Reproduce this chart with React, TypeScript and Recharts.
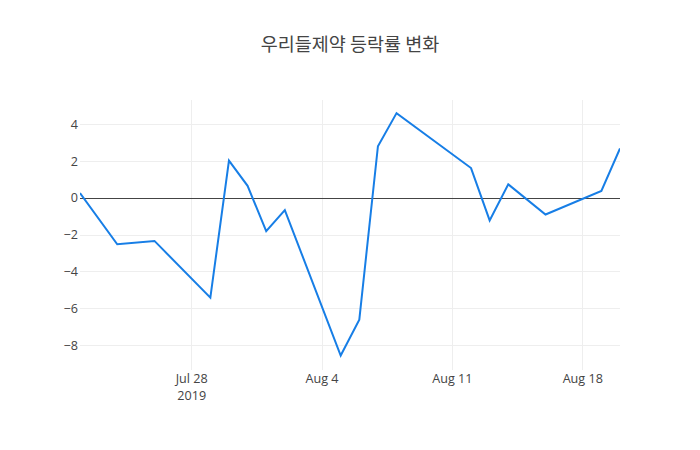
import React from "react";
import { LineChart, Line, XAxis, YAxis, CartesianGrid, ReferenceLine } from "recharts";

const dates = [
  "2019-07-22", "2019-07-24", "2019-07-26", "2019-07-29", "2019-07-30", "2019-07-31",
  "2019-08-01", "2019-08-02", "2019-08-05", "2019-08-06", "2019-08-07", "2019-08-08",
  "2019-08-12", "2019-08-13", "2019-08-14", "2019-08-16", "2019-08-19", "2019-08-20",
];
const changes = [
  0.27, -2.5, -2.32, -5.39, 2.02, 0.66, -1.79, -0.65, -8.52, -6.58, 2.8, 4.59,
  1.62, -1.21, 0.74, -0.89, 0.38, 2.68,
];
const xTickDates = ["2019-07-28", "2019-08-04", "2019-08-11", "2019-08-18"];
const yTicks = [-8, -6, -4, -2, 0, 2, 4];
const title = "우리들제약 등락률 변화";

const toTs = (d: string) => Date.UTC(+d.slice(0, 4), +d.slice(5, 7) - 1, +d.slice(8, 10));
const data = dates.map((d, i) => ({ t: toTs(d), v: changes[i] }));
const xTicks = xTickDates.map(toTs);
const months = ["Jan", "Feb", "Mar", "Apr", "May", "Jun", "Jul", "Aug", "Sep", "Oct", "Nov", "Dec"];

const FONT = '"Open Sans", "Noto Sans", sans-serif';
const FS = 12.6;

function XTick(props: any) {
  const { x, y, payload, index } = props;
  const d = new Date(payload.value);
  const label = `${months[d.getUTCMonth()]} ${d.getUTCDate()}`;
  return (
    <g>
      <text x={x} y={y + 13} textAnchor="middle" fontFamily={FONT} fontSize={FS} fill="#444">
        {label}
      </text>
      {index === 0 && (
        <text x={x} y={y + 30} textAnchor="middle" fontFamily={FONT} fontSize={FS} fill="#444">
          {d.getUTCFullYear()}
        </text>
      )}
    </g>
  );
}

export default function App() {
  return (
    <div style={{ position: "absolute", left: 0, top: 0, width: 700, height: 450, background: "#fff" }}>
      <div
        style={{
          position: "absolute", top: 34, left: 0, width: 700, textAlign: "center", lineHeight: 1,
          fontFamily: '"Noto Sans CJK KR", "Open Sans", sans-serif', fontSize: 18.5, color: "#444",
        }}
      >
        {title}
      </div>
      <LineChart width={700} height={450} data={data} margin={{ top: 100, right: 80, bottom: 0, left: 0 }}>
        <CartesianGrid
          stroke="#eee" strokeWidth={1} verticalValues={xTicks} horizontalValues={yTicks}
          shapeRendering="crispEdges"
        />
        <XAxis
          dataKey="t" type="number" scale="time" domain={[data[0].t, data[data.length - 1].t]}
          ticks={xTicks} height={80} axisLine={false} tickLine={false} tickSize={0} tickMargin={0}
          tick={<XTick />} allowDataOverflow
        />
        <YAxis
          type="number" domain={[-9.3, 5.3]} ticks={yTicks} width={80} axisLine={false} tickLine={false}
          tickSize={0} tickMargin={2} allowDataOverflow
          tick={{ fontFamily: FONT, fontSize: FS, fill: "#444" }}
          tickFormatter={(v: number) => (v < 0 ? `\u2212${Math.abs(v)}` : `${v}`)}
        />
        <ReferenceLine y={0} stroke="#444" strokeWidth={1} shapeRendering="crispEdges" />
        <Line
          type="linear" dataKey="v" stroke="#177ee6" strokeWidth={2} dot={false}
          isAnimationActive={false}
        />
      </LineChart>
    </div>
  );
}
